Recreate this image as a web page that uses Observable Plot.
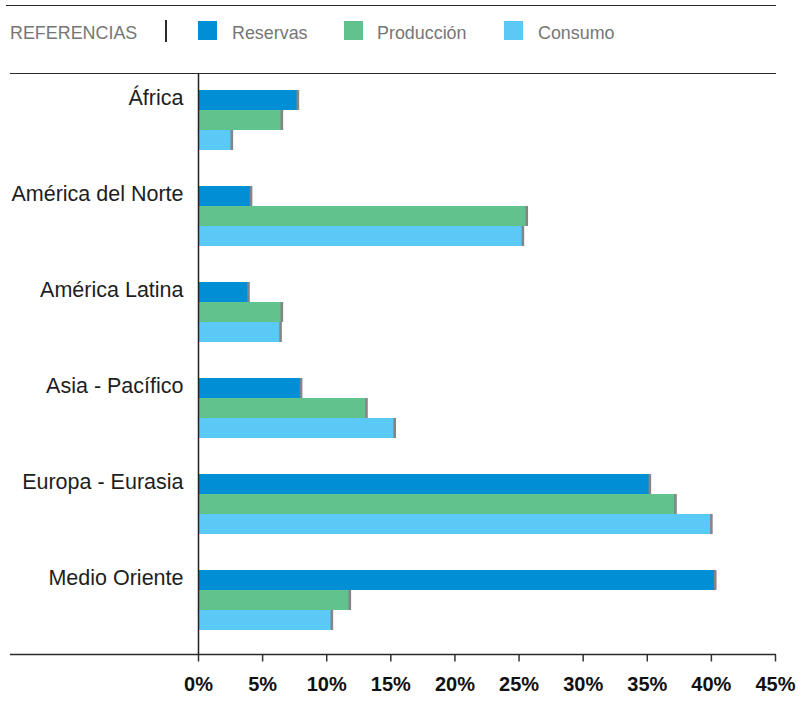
<!DOCTYPE html>
<html>
<head>
<meta charset="utf-8">
<script src="https://cdn.jsdelivr.net/npm/d3@7"></script>
<script src="https://cdn.jsdelivr.net/npm/@observablehq/plot@0.6"></script>
<style>
  body { margin: 0; background: #fff; font-family: "Liberation Sans", Arial, sans-serif; }
  #hdr { position: relative; width: 812px; height: 74px; }
  #hdr .ln { position: absolute; background: #2a2a2a; }
  #hdr .tx { position: absolute; font-size: 17.9px; line-height: 20px; color: #767676; white-space: nowrap; }
  #hdr .sw { position: absolute; width: 19px; height: 19px; top: 21px; }
  #chart svg { display: block; }
  #chart g[aria-label="x-axis tick label"] text { font-weight: bold; }
</style>
</head>
<body>
<div id="hdr"></div>
<div id="chart"></div>
<script>
// ---- data ----
const regions = ["África", "América del Norte", "América Latina", "Asia - Pacífico", "Europa - Eurasia", "Medio Oriente"];
const series = ["Reservas", "Producción", "Consumo"];
const reservas   = [7.75, 4.1, 3.9, 8.0, 35.2, 40.3];
const produccion = [6.5, 25.6, 6.5, 13.1, 37.2, 11.8];
const consumo    = [2.6, 25.3, 6.4, 15.3, 40.0, 10.4];
const colors = ["#008fd5", "#62c28e", "#5bc9f5"];
const xTicks = [0, 5, 10, 15, 20, 25, 30, 35, 40, 45];
const legendTitle = "REFERENCIAS";

// ---- header / legend ----
const hdr = document.getElementById("hdr");
function add(cls, style, text) {
  const d = document.createElement("div");
  d.className = cls;
  Object.assign(d.style, style);
  if (text) d.textContent = text;
  hdr.appendChild(d);
}
add("ln", {left: "6px", top: "4.5px", width: "770px", height: "1.6px"});
add("ln", {left: "10px", top: "72.5px", width: "766px", height: "1.5px"});
add("ln", {left: "165px", top: "19.5px", width: "1.8px", height: "22.5px"});
add("tx", {left: "10px", top: "23px"}, legendTitle);
const swX = [198, 344, 504];
const txX = [232, 377, 538];
series.forEach((s, i) => {
  add("sw", {left: swX[i] + "px", background: colors[i]});
  add("tx", {left: txX[i] + "px", top: "23px"}, s);
});

// ---- chart ----
const vals = [reservas, produccion, consumo];
const data = [];
series.forEach((s, si) => regions.forEach((r, ri) => data.push({region: r, serie: s, value: vals[si][ri]})));
const offs = [-20, 0, 20];

const marks = [];
series.forEach((s, si) => {
  const d = data.filter(o => o.serie === s);
  marks.push(Plot.barX(d, {x: "value", y: "region", fill: colors[si], dy: offs[si]}));
  marks.push(Plot.tickX(d, {x: "value", y: "region", stroke: "#858585", strokeWidth: 2.6, dy: offs[si]}));
});
marks.push(Plot.ruleX([0], {stroke: "#222", strokeWidth: 1.5}));
marks.push(Plot.axisX({ticks: xTicks, tickFormat: d => d + "%", tickSize: 7, tickPadding: 14.5,
  fontSize: 20, fontWeight: "bold", fill: "#111", stroke: "#333", strokeWidth: 1.5, label: null}));
marks.push(Plot.axisY({tickSize: 0, tickPadding: 15, dy: -22, fontSize: 21.5, fill: "#1e1e1e", label: null}));

const chart = Plot.plot({
  width: 812,
  height: 648,
  marginLeft: 198,
  marginRight: 37,
  marginTop: 0,
  marginBottom: 67.5,
  style: {fontFamily: "'Liberation Sans', Arial, sans-serif", background: "#fff", overflow: "visible"},
  x: {domain: [0, 45]},
  y: {domain: regions, range: [36, 536], paddingInner: 76 / 96, paddingOuter: 0, align: 0, round: false},
  marks
});
document.getElementById("chart").appendChild(chart);

// bottom axis line extending into the left margin
d3.select(chart).append("line")
  .attr("x1", 10).attr("x2", 776)
  .attr("y1", 648 - 67.5).attr("y2", 648 - 67.5)
  .attr("stroke", "#2a2a2a").attr("stroke-width", 1.5);
</script>
</body>
</html>
